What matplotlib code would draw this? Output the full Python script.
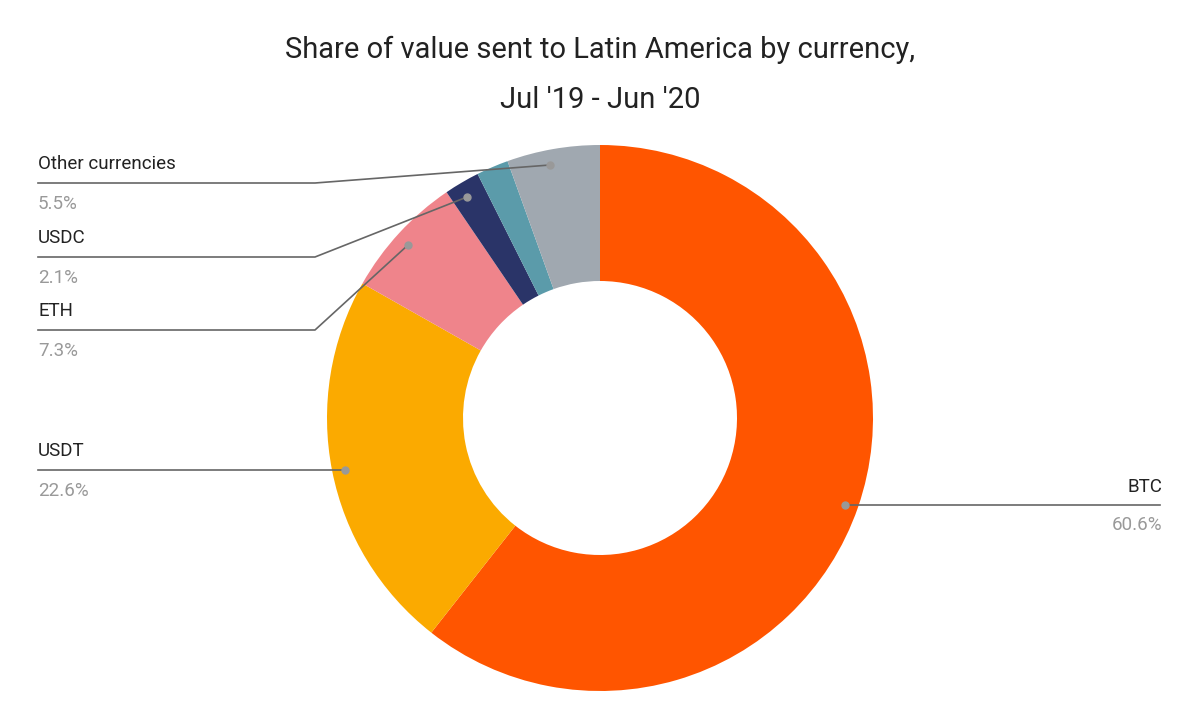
import matplotlib
matplotlib.use("Agg")
import matplotlib.pyplot as plt

labels = ["BTC", "USDT", "ETH", "USDC", "", "Other currencies"]
values = [60.6, 22.6, 7.3, 2.1, 1.9, 5.5]
pct_text = ["60.6%", "22.6%", "7.3%", "2.1%", "", "5.5%"]
colors = ["#FF5500", "#FBAA00", "#EF848B", "#2A3468", "#5B9BAA", "#A0A8B0"]

plt.rcParams["font.family"] = "Roboto"
fig = plt.figure(figsize=(12, 7.2), dpi=100)
ax = fig.add_axes([0, 0, 1, 1])
ax.set_xlim(0, 1200); ax.set_ylim(0, 720); ax.set_aspect("equal"); ax.axis("off")

H = 720
cx, cy, R = 600, H - 418, 273
ax.pie(values, colors=colors, startangle=90, counterclock=False, center=(cx, cy),
       radius=R, wedgeprops=dict(width=R - 137, linewidth=0), frame=True)
ax.set_xlim(0, 1200); ax.set_ylim(0, 720); ax.axis("off")

fig.text(0.5, 1 - 50 / H, "Share of value sent to Latin America by currency,", ha="center", va="center", fontsize=21, color="#222222")
fig.text(0.5, 1 - 100 / H, "Jul '19 - Jun '20", ha="center", va="center", fontsize=21, color="#222222")

# leader lines: (dot, elbow, end, label side)
leaders = {
    0: [(845, 505), (1160, 505)],
    1: [(345, 470), (38, 470)],
    2: [(408, 245), (315, 330), (38, 330)],
    3: [(467, 197), (315, 257), (38, 257)],
    5: [(550, 165), (315, 183), (38, 183)],
}
for i, pts in leaders.items():
    xs = [p[0] for p in pts]; ys = [H - p[1] for p in pts]
    ax.plot(xs, ys, color="#666666", lw=1.2)
    ax.plot(xs[0], ys[0], "o", color="#999999", ms=5)
    ly = pts[-1][1]
    if i == 0:
        ax.text(1162, H - (ly - 18), labels[i], ha="right", va="center", fontsize=13.5, color="#222222")
        ax.text(1162, H - (ly + 20), pct_text[i], ha="right", va="center", fontsize=13.5, color="#999999")
    else:
        ax.text(38, H - (ly - 19), labels[i], ha="left", va="center", fontsize=13.5, color="#222222")
        ax.text(38, H - (ly + 21), pct_text[i], ha="left", va="center", fontsize=13.5, color="#999999")

fig.savefig("out.png", dpi=100, facecolor="white")
